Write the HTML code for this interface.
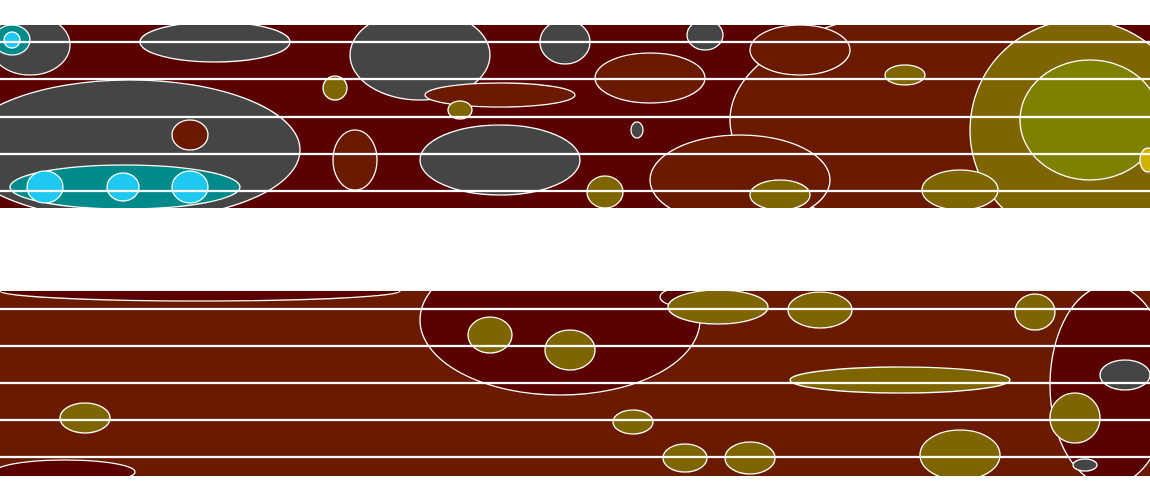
<!DOCTYPE html>
<html><head><meta charset="utf-8"><style>
html,body{margin:0;padding:0;background:#fff;width:1150px;height:500px;overflow:hidden}
svg{display:block}
</style></head><body>
<svg id="chart" width="1150" height="500" xmlns="http://www.w3.org/2000/svg">
<defs>
<clipPath id="ct"><rect x="0" y="25" width="1150" height="183"/></clipPath>
<clipPath id="cb"><rect x="0" y="291" width="1150" height="185"/></clipPath>
</defs>
<rect x="0" y="25" width="1150" height="183" fill="#5a0000"/>
<rect x="0" y="291" width="1150" height="185" fill="#6a1a00"/>
<g id="top" clip-path="url(#ct)"></g>
<g id="bot" clip-path="url(#cb)"></g>
<g id="lines"></g>
</svg>
<script>
// contour blobs: [cx, cy, rx, ry, level]
const levels = [-30,-20,-10,0,10,20,30];
const colors = {"-30":"#1ec8f0","-20":"#008a8a","-10":"#454545","0":"#5a0000","10":"#6a1a00","20":"#7f6500","30":"#7f8000","40":"#d0b000"};
const topBlobs = [
 [130,150,170,70,-10],[215,42,75,20,-10],[30,45,40,30,-10],[420,55,70,45,-10],[500,160,80,35,-10],[565,42,25,22,-10],[705,35,18,15,-10],[637,130,6,8,-10],
 [125,187,115,22,-20],[12,40,18,15,-20],
 [45,187,18,16,-30],[123,187,16,14,-30],[190,187,18,16,-30],[12,40,8,8,-30],
 [190,135,18,15,10],[355,160,22,30,10],[650,78,55,25,10],[500,95,75,12,10],[940,120,210,110,10],[800,50,50,25,10],[740,180,90,45,10],
 [1080,130,110,110,20],[460,110,12,9,20],[605,192,18,16,20],[780,195,30,15,20],[960,190,38,20,20],[905,75,20,10,20],[335,88,12,12,20],
 [1090,120,70,60,30],[1148,160,8,12,40]
];
const botBlobs = [
 [200,291,200,10,0],[560,320,140,75,0],[1110,385,60,100,0],[65,472,70,12,0],[700,297,40,12,0],
 [718,307,50,17,20],[820,310,32,18,20],[1035,312,20,18,20],[490,335,22,18,20],[570,350,25,20,20],[900,380,110,13,20],
 [85,418,25,15,20],[633,422,20,12,20],[750,458,25,16,20],[960,455,40,25,20],[1075,418,25,25,20],[685,458,22,14,20],
 [1125,375,25,15,-10],[1085,465,12,6,-10]
];
const hLinesTop = [42,79,117,154,191];
const hLinesBot = [309,346,383,420,457];
const NS="http://www.w3.org/2000/svg";
function draw(gid, blobs){
  const g=document.getElementById(gid);
  blobs.forEach((b,i)=>{
    const e=document.createElementNS(NS,"ellipse");
    
    
    e.setAttribute("cx",b[0]);e.setAttribute("cy",b[1]);
    e.setAttribute("rx",b[2]);e.setAttribute("ry",b[3]);
    e.setAttribute("fill",colors[String(b[4])]);
    e.setAttribute("stroke","#fff");e.setAttribute("stroke-width","1.3");
    g.appendChild(e);
  });
}
draw("top",topBlobs);draw("bot",botBlobs);
const lg=document.getElementById("lines");
hLinesTop.concat(hLinesBot).forEach(y=>{
  const l=document.createElementNS(NS,"line");
  
  
  l.setAttribute("x1",0);l.setAttribute("x2",1150);l.setAttribute("y1",y);l.setAttribute("y2",y);
  l.setAttribute("stroke","#fff");l.setAttribute("stroke-width","2.2");
  lg.appendChild(l);
});
</script>
</body></html>
